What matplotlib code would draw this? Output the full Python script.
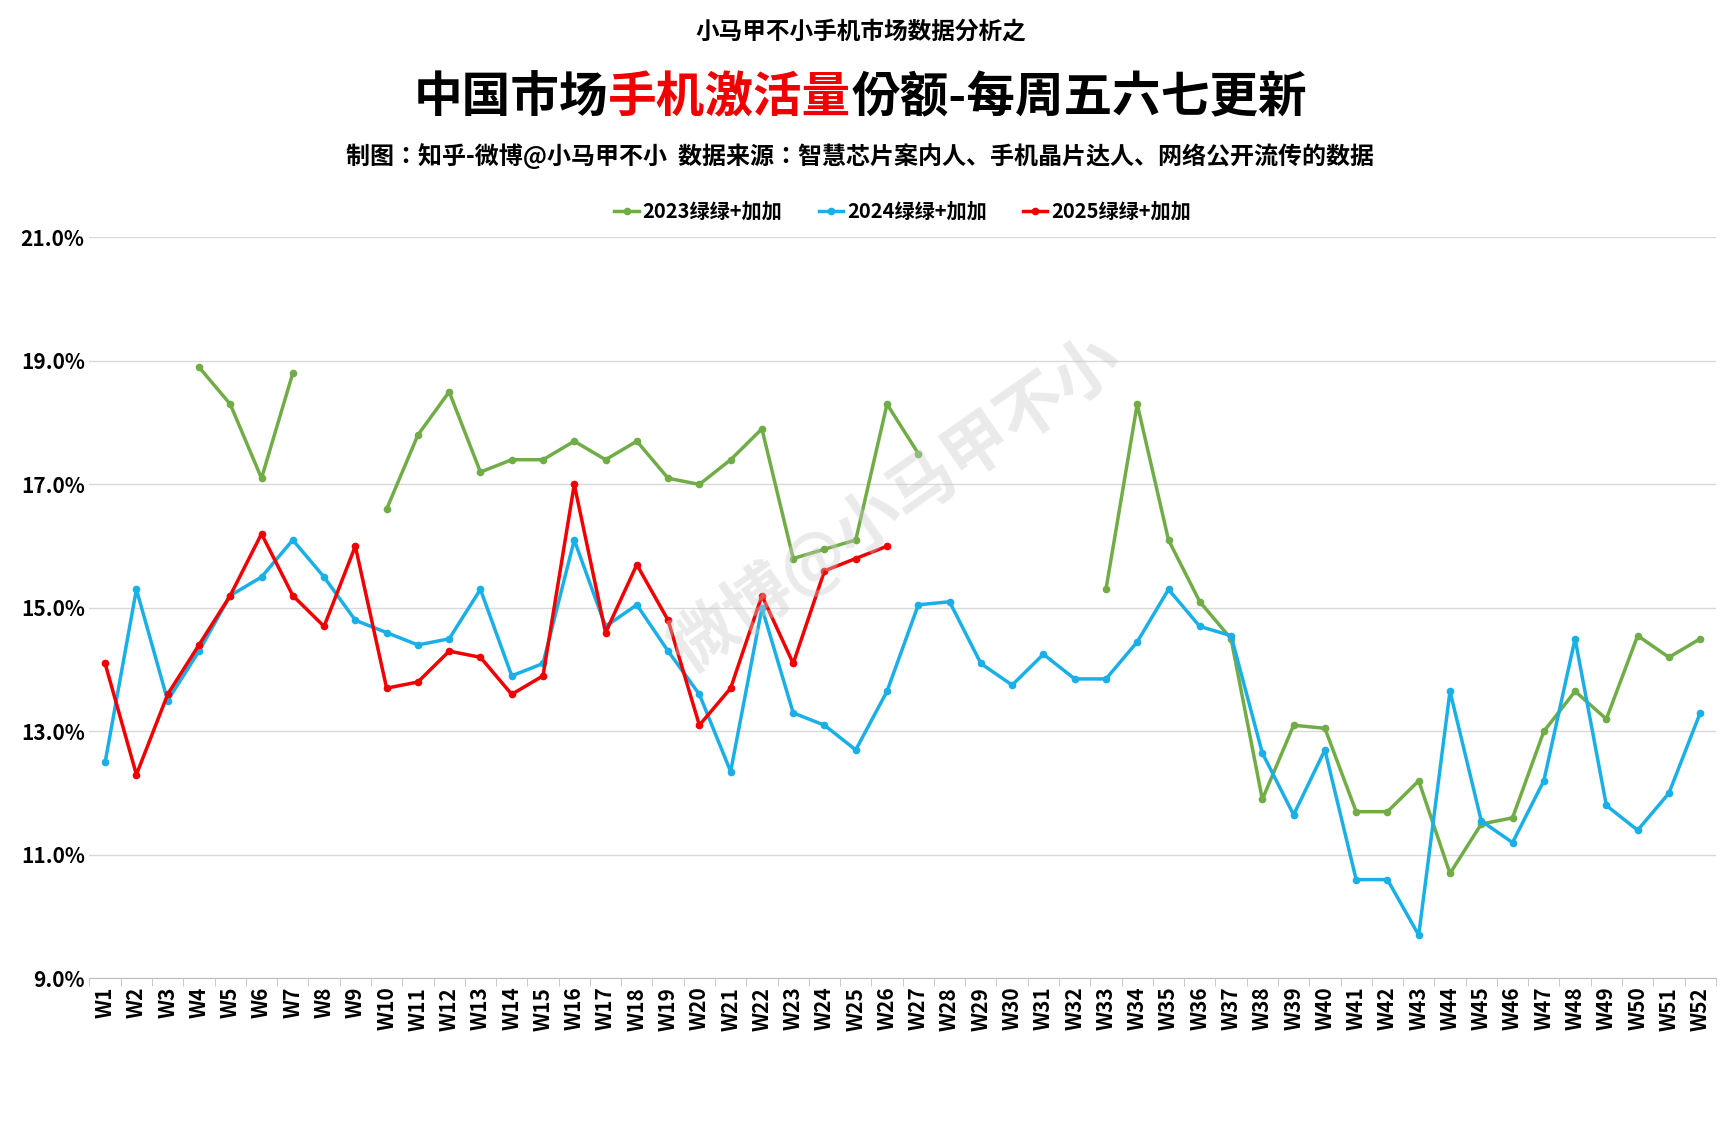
import numpy as np
import matplotlib.pyplot as plt
from matplotlib import font_manager
from matplotlib.ticker import FuncFormatter

cjk = [f.name for f in font_manager.fontManager.ttflist if "CJK" in f.name]
plt.rcParams["font.family"] = "sans-serif"
plt.rcParams["font.sans-serif"] = sorted(set(cjk), key=lambda n: ("SC" not in n, n)) + ["DejaVu Sans"]

weeks = [f"W{i}" for i in range(1, 53)]
N = np.nan
share_2023 = [N, N, N, 18.9, 18.3, 17.1, 18.8, N, N, 16.6,
              17.8, 18.5, 17.2, 17.4, 17.4, 17.7, 17.4, 17.7, 17.1, 17.0,
              17.4, 17.9, 15.8, 15.95, 16.1, 18.3, 17.5, N, N, N,
              N, N, 15.3, 18.3, 16.1, 15.1, 14.5, 11.9, 13.1, 13.05,
              11.7, 11.7, 12.2, 10.7, 11.5, 11.6, 13.0, 13.65, 13.2, 14.55,
              14.2, 14.5]
share_2024 = [12.5, 15.3, 13.5, 14.3, 15.2, 15.5, 16.1, 15.5, 14.8, 14.6,
              14.4, 14.5, 15.3, 13.9, 14.1, 16.1, 14.7, 15.05, 14.3, 13.6,
              12.35, 15.0, 13.3, 13.1, 12.7, 13.65, 15.05, 15.1, 14.1, 13.75,
              14.25, 13.85, 13.85, 14.45, 15.3, 14.7, 14.55, 12.65, 11.65, 12.7,
              10.6, 10.6, 9.7, 13.65, 11.55, 11.2, 12.2, 14.5, 11.8, 11.4,
              12.0, 13.3]
share_2025 = [14.1, 12.3, 13.6, 14.4, 15.2, 16.2, 15.2, 14.7, 16.0, 13.7,
              13.8, 14.3, 14.2, 13.6, 13.9, 17.0, 14.6, 15.7, 14.8, 13.1,
              13.7, 15.2, 14.1, 15.6, 15.8, 16.0]

fig = plt.figure(figsize=(17.21, 11.47), dpi=100)
ax = fig.add_axes([0.052, 0.147, 0.945, 0.646])
x = np.arange(len(weeks))
ax.plot(x, share_2023, color="#70AD47", lw=2.5, marker="o", ms=4.5, label="2023绿绿+加加")
ax.plot(x, share_2024, color="#1AAFE6", lw=2.5, marker="o", ms=4.5, label="2024绿绿+加加")
ax.plot(x[:len(share_2025)], share_2025, color="#F00000", lw=2.5, marker="o", ms=4.5, label="2025绿绿+加加")

ax.set_ylim(9, 21)
ax.set_yticks(np.arange(9, 21.1, 2))
ax.yaxis.set_major_formatter(FuncFormatter(lambda v, p: f"{v:.1f}%"))
ax.set_xlim(-0.5, 51.5)
ax.set_xticks(x)
ax.set_xticklabels(weeks, rotation=90, fontsize=15, fontweight="bold")
ax.set_xticks(np.arange(-0.5, 52, 1), minor=True)
ax.tick_params(axis="x", which="major", length=0, pad=6)
ax.tick_params(axis="x", which="minor", length=6, color="#bfbfbf")
ax.tick_params(axis="y", length=0, labelsize=15)
for t in ax.get_yticklabels():
    t.set_fontweight("bold")
ax.grid(axis="y", color="#d9d9d9", lw=1)
for s in ["top", "right", "left"]:
    ax.spines[s].set_visible(False)
ax.spines["bottom"].set_color("#bfbfbf")

fig.text(0.5, 0.972, "小马甲不小手机市场数据分析之", ha="center", va="center", fontsize=17, fontweight="bold")

# title in three colored parts, centered as a whole
parts = [("中国市场", "black"), ("手机激活量", "#F00000"), ("份额-每周五六七更新", "black")]
fig.canvas.draw()
r = fig.canvas.get_renderer()
objs = [fig.text(0, 0.915, s, ha="left", va="center", fontsize=35, fontweight="bold", color=c) for s, c in parts]
widths = [o.get_window_extent(r).width / fig.bbox.width for o in objs]
xpos = 0.5 - sum(widths) / 2
for o, w in zip(objs, widths):
    o.set_x(xpos)
    xpos += w

fig.text(0.5, 0.864, "制图：知乎-微博@小马甲不小  数据来源：智慧芯片案内人、手机晶片达人、网络公开流传的数据",
         ha="center", va="center", fontsize=17.3, fontweight="bold")
ax.legend(loc="lower center", bbox_to_anchor=(0.5, 1.005), ncol=3, frameon=False,
          prop={"size": 14.5, "weight": "bold"}, handlelength=1.2, handletextpad=0.2,
          columnspacing=1.8, borderaxespad=0.2)
fig.text(0.52, 0.56, "微博@小马甲不小", ha="center", va="center", fontsize=48, fontweight="bold",
         color="#cccccc", alpha=0.4, rotation=35)
fig.savefig("out.png", dpi=100, facecolor="white")
